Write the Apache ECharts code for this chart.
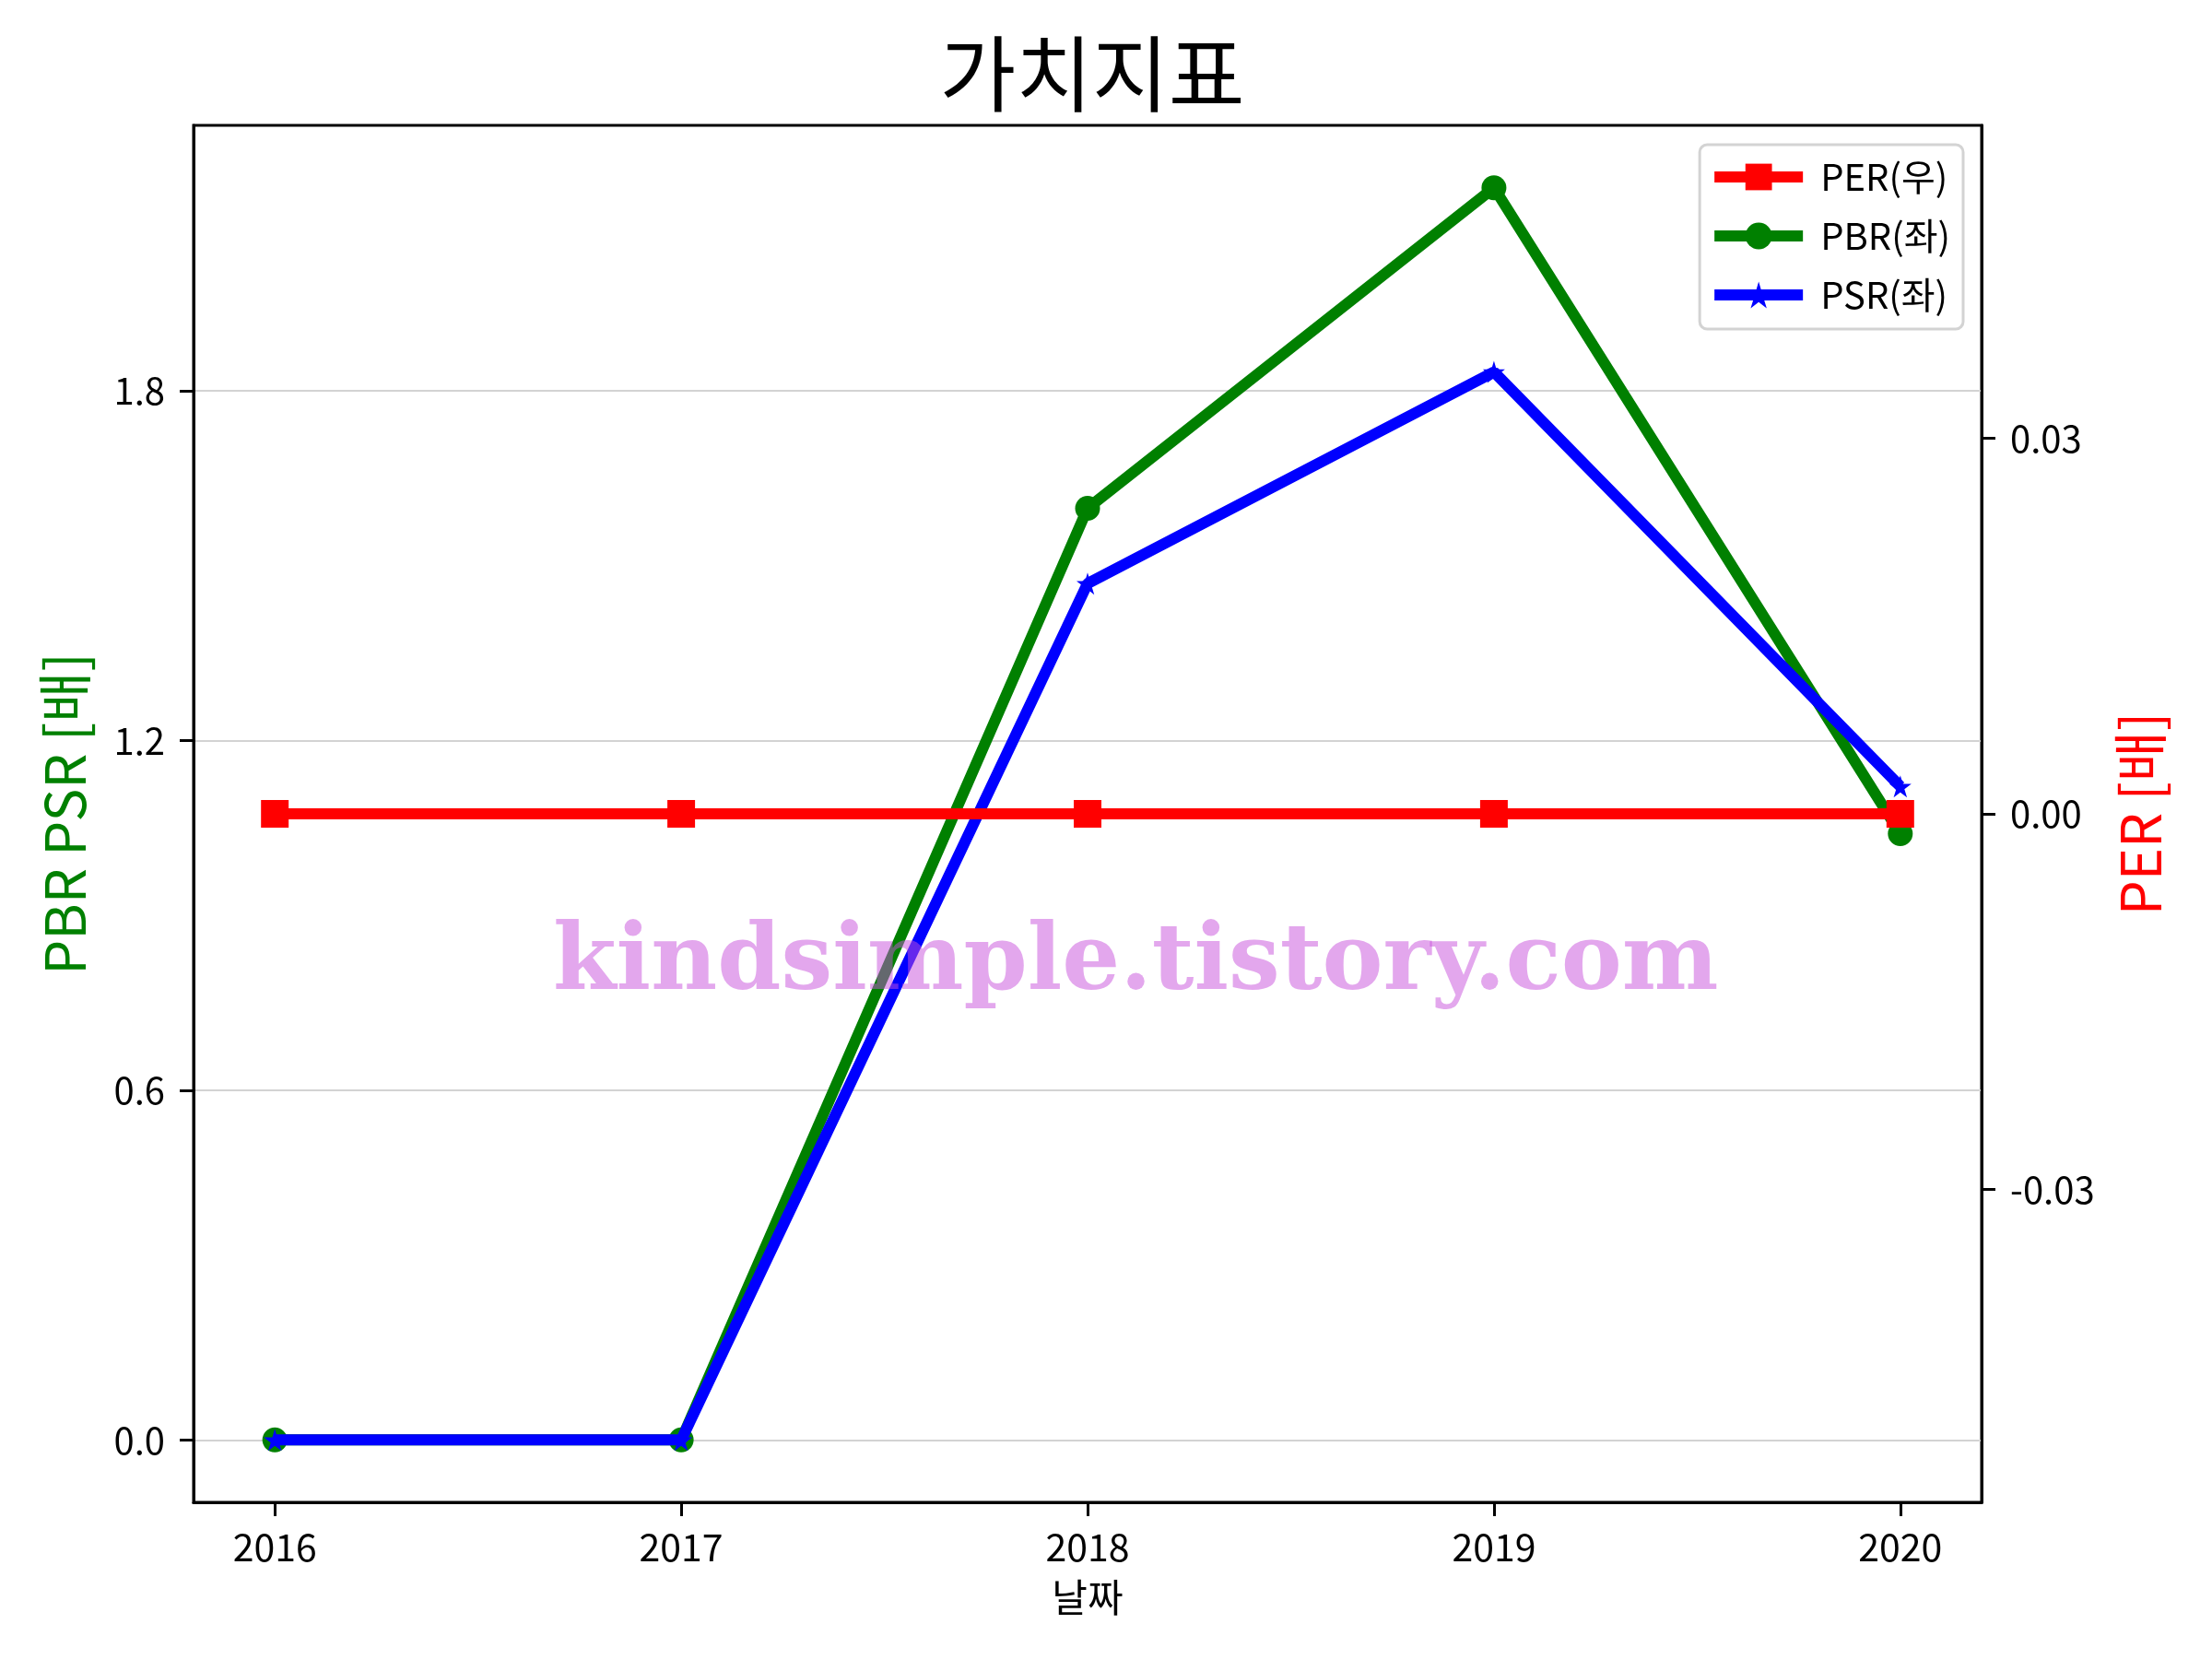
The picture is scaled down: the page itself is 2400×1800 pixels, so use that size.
<!DOCTYPE html>
<html><head><meta charset="utf-8">
<script src="https://cdn.jsdelivr.net/npm/echarts@6/dist/echarts.min.js"></script>
<style>html,body{margin:0;padding:0;background:#fff}#c{width:2400px;height:1800px}</style>
</head><body><div id="c"></div>
<script>
const years = [2016, 2017, 2018, 2019, 2020];
const per = [0, 0, 0, 0, 0];
const pbr = [0, 0, 1.598, 2.148, 1.040];
const psr = [0, 0, 1.469, 1.832, 1.121];
const leftTicks = [0, 0.6, 1.2, 1.8];
const rightTicks = [-0.03, 0, 0.03];
const xTicks = [2016, 2017, 2018, 2019, 2020];

const FONT = '"Noto Sans CJK KR", "Noto Sans", sans-serif';
const STAR = 'path://M50,0 L61,35 L98,35 L68,57 L79,91 L50,70 L21,91 L32,57 L2,35 L39,35 Z';
const pair = arr => years.map((y, i) => [y, arr[i]]);

const chart = echarts.init(document.getElementById('c'), null, {renderer: 'canvas'});
chart.setOption({
  animation: false,
  backgroundColor: '#fff',
  textStyle: {fontFamily: FONT},
  title: {
    text: '가치지표', left: 1180, textAlign: 'center', top: 30,
    textStyle: {fontFamily: FONT, fontSize: 90, fontWeight: 'normal', color: '#000'}
  },
  grid: {left: 210, right: 250, top: 136, bottom: 170, show: true, borderColor: '#000', borderWidth: 3, backgroundColor: 'transparent'},
  legend: {
    data: ['PER(우)', 'PBR(좌)', 'PSR(좌)'],
    orient: 'vertical', right: 270, top: 157,
    itemWidth: 96, itemHeight: 36, itemGap: 24,
    padding: [15, 14, 17, 10],
    backgroundColor: '#fff', borderColor: '#d3d3d3', borderWidth: 3, borderRadius: 8,
    lineStyle: {width: 12},
    textStyle: {fontFamily: FONT, fontSize: 40, color: '#000', padding: [0, 0, 0, 14]}
  },
  xAxis: {
    type: 'value', min: 2015.8, max: 2020.2,
    name: '날짜', nameLocation: 'middle', nameGap: 82,
    nameTextStyle: {fontFamily: FONT, fontSize: 42, color: '#000'},
    axisLine: {show: true, onZero: false, lineStyle: {color: '#000', width: 3}},
    axisTick: {show: true, length: 15, lineStyle: {color: '#000', width: 3}, customValues: xTicks},
    axisLabel: {fontFamily: FONT, fontSize: 41, color: '#000', margin: 28, customValues: xTicks, formatter: v => String(v)},
    splitLine: {show: false}
  },
  yAxis: [{
    type: 'value', position: 'left', min: -0.107, max: 2.255,
    name: 'PBR PSR [배]', nameLocation: 'middle', nameGap: 110,
    nameTextStyle: {fontFamily: FONT, fontSize: 60, color: '#008000'},
    axisLine: {show: true, onZero: false, lineStyle: {color: '#000', width: 3}},
    axisTick: {show: true, length: 15, lineStyle: {color: '#000', width: 3}, customValues: leftTicks},
    axisLabel: {fontFamily: FONT, fontSize: 40, color: '#000', margin: 31, customValues: leftTicks, formatter: v => v.toFixed(1)},
    splitLine: {show: true, lineStyle: {color: '#d3d3d3', width: 2}}
  }, {
    type: 'value', position: 'right', min: -0.055, max: 0.055,
    name: 'PER [배]', nameLocation: 'middle', nameGap: 142,
    nameTextStyle: {fontFamily: FONT, fontSize: 60, color: '#ff0000'},
    axisLine: {show: true, onZero: false, lineStyle: {color: '#000', width: 3}},
    axisTick: {show: true, length: 15, lineStyle: {color: '#000', width: 3}, customValues: rightTicks},
    axisLabel: {fontFamily: FONT, fontSize: 40, color: '#000', margin: 31, customValues: rightTicks, formatter: v => v.toFixed(2)},
    splitLine: {show: false}
  }],
  series: [{
    name: 'PBR(좌)', type: 'line', yAxisIndex: 0, data: pair(pbr), z: 3,
    symbol: 'circle', symbolSize: 27, showSymbol: true,
    lineStyle: {color: '#008000', width: 12}, itemStyle: {color: '#008000'}
  }, {
    name: 'PSR(좌)', type: 'line', yAxisIndex: 0, data: pair(psr), z: 4,
    symbol: STAR, symbolSize: 24, showSymbol: true,
    lineStyle: {color: '#0000ff', width: 12}, itemStyle: {color: '#0000ff'}
  }, {
    name: 'PER(우)', type: 'line', yAxisIndex: 1, data: pair(per), z: 5,
    symbol: 'rect', symbolSize: 30, showSymbol: true,
    lineStyle: {color: '#ff0000', width: 12}, itemStyle: {color: '#ff0000'}
  }],
  graphic: [{
    type: 'text', left: 600, top: 998, z: 100, silent: true,
    style: {
      text: 'kindsimple.tistory.com',
      font: 'bold 99px "DejaVu Serif", serif',
      fill: 'rgba(200,80,220,0.5)'
    }
  }]
});
</script></body></html>
